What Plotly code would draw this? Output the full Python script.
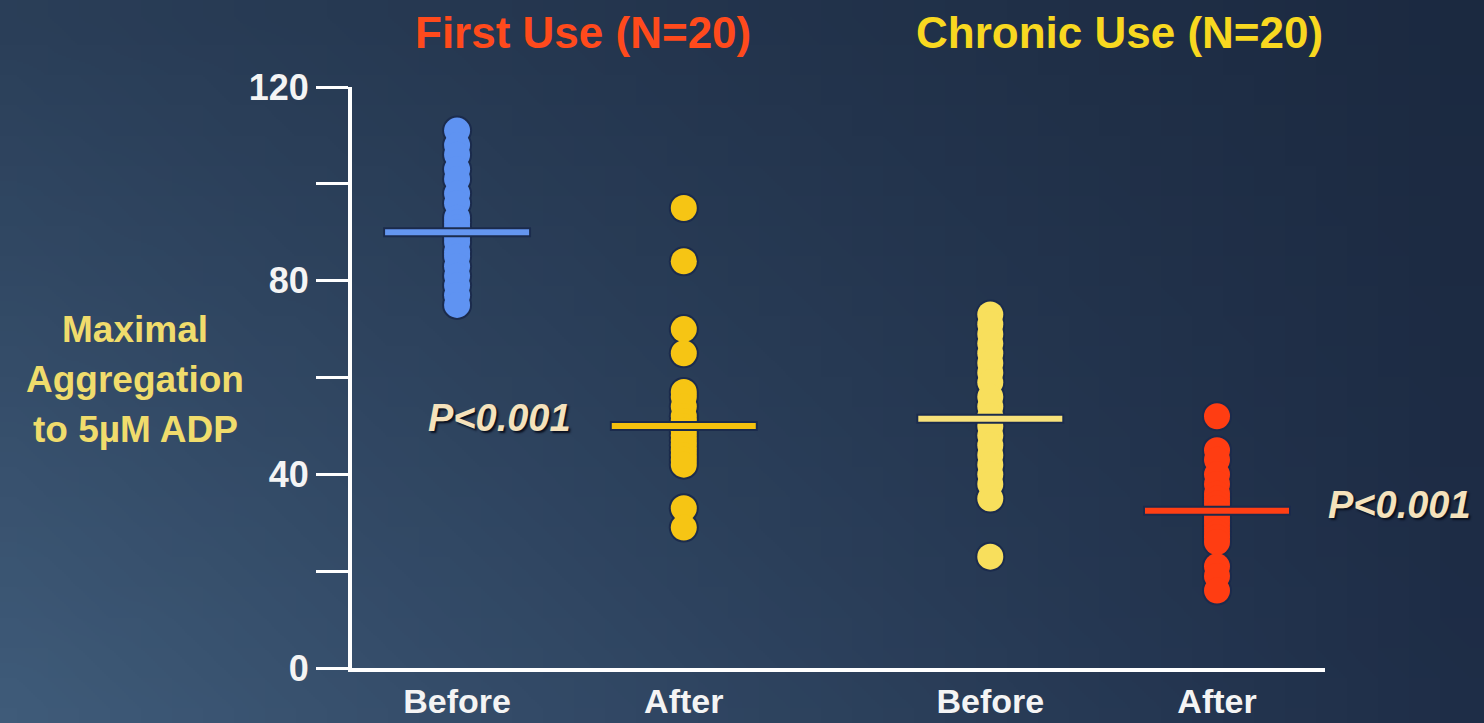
import base64, struct, zlib
import plotly.graph_objects as go

# ---------------- data ----------------
groups = ["First Use - Before", "First Use - After", "Chronic Use - Before", "Chronic Use - After"]
x_pos = [1.08, 3.41, 6.56, 8.89]
tick_labels = ["Before", "After", "Before", "After"]

first_before = [111, 108, 106, 103, 101, 98, 96, 93, 92, 91, 90, 89, 88, 86, 85, 83, 81, 79, 77, 75]
first_after = [95, 84, 70, 65, 57, 56, 54, 52, 51, 50, 49, 48, 47, 46, 45, 44, 43, 42, 33, 29]
chronic_before = [73, 71, 69, 67, 65, 63, 61, 59, 56, 54, 52, 50, 48, 46, 44, 42, 40, 38, 35, 23]
chronic_after = [52, 45, 43, 40, 38, 36, 35, 34, 33, 32, 32, 31, 30, 29, 28, 27, 26, 21, 19, 16]
group_means = [90, 50, 51.5, 32.5]

y_tickvals = [0, 20, 40, 60, 80, 100, 120]
y_ticktext = ["0", "", "40", "", "80", "", "120"]

series = [first_before, first_after, chronic_before, chronic_after]
dot_colors = ["#5f93f2", "#f6c514", "#f8df5c", "#ff3d12"]
line_colors = ["#6496f0", "#f4c10e", "#f8e27a", "#ff3f14"]

# ---------------- background gradient (small PNG, stretched) ----------------
def gradient_png(w, h, tl, tr, bl, br):
    raw = b""
    for j in range(h):
        fy = j / (h - 1)
        row = b"\x00"
        for i in range(w):
            fx = i / (w - 1)
            px = []
            for k in range(3):
                top = tl[k] * (1 - fx) + tr[k] * fx
                bot = bl[k] * (1 - fx) + br[k] * fx
                px.append(int(round(top * (1 - fy) + bot * fy)))
            row += bytes(px)
        raw += row
    def chunk(t, d):
        c = struct.pack(">I", len(d)) + t + d
        return c + struct.pack(">I", zlib.crc32(t + d) & 0xffffffff)
    png = b"\x89PNG\r\n\x1a\n"
    png += chunk(b"IHDR", struct.pack(">IIBBBBB", w, h, 8, 2, 0, 0, 0))
    png += chunk(b"IDAT", zlib.compress(raw))
    png += chunk(b"IEND", b"")
    return "data:image/png;base64," + base64.b64encode(png).decode()

bg = gradient_png(48, 24, (42, 62, 88), (27, 41, 64), (63, 91, 121), (30, 45, 71))

fig = go.Figure()
halo = "#1b2b4c"

for xs, vals, col, lc, m, name in zip(x_pos, series, dot_colors, line_colors, group_means, groups):
    # dark halo under the dots
    fig.add_trace(go.Scatter(
        x=[xs] * len(vals), y=vals, mode="markers",
        marker=dict(size=30, color=halo, line=dict(width=0)),
        cliponaxis=False, showlegend=False, hoverinfo="skip"))
    fig.add_trace(go.Scatter(
        x=[xs] * len(vals), y=vals, mode="markers", name=name,
        marker=dict(size=26, color=col, line=dict(width=0)),
        cliponaxis=False, showlegend=False, hoverinfo="y"))
    fig.add_trace(go.Scatter(
        x=[xs - 0.76, xs + 0.76], y=[m, m], mode="lines",
        line=dict(color=halo, width=10), showlegend=False, hoverinfo="skip"))
    fig.add_trace(go.Scatter(
        x=[xs - 0.74, xs + 0.74], y=[m, m], mode="lines",
        line=dict(color=lc, width=6), showlegend=False, hoverinfo="skip"))

font_family = "Liberation Sans, Arial, sans-serif"
ytitle_color = "#f0dc6c"
p_font = dict(size=38, color="#f5e2bc", family=font_family, shadow="2px 2px 2px #0a1020")

annotations = [
    dict(text="<b>First Use (N=20)</b>", x=0.237, y=1.093, xref="paper", yref="paper",
         xanchor="center", yanchor="middle",
         showarrow=False, font=dict(size=44, color="#ff4a1c", family=font_family)),
    dict(text="<b>Chronic Use (N=20)</b>", x=0.789, y=1.093, xref="paper", yref="paper",
         xanchor="center", yanchor="middle",
         showarrow=False, font=dict(size=44, color="#f8d820", family=font_family)),
    dict(text="<b>Maximal</b>", x=-0.223, y=0.582, xref="paper", yref="paper",
         xanchor="center", yanchor="middle",
         showarrow=False, font=dict(size=37, color=ytitle_color, family=font_family)),
    dict(text="<b>Aggregation</b>", x=-0.223, y=0.496, xref="paper", yref="paper",
         xanchor="center", yanchor="middle",
         showarrow=False, font=dict(size=37, color=ytitle_color, family=font_family)),
    dict(text="<b>to 5µM ADP</b>", x=-0.223, y=0.410, xref="paper", yref="paper",
         xanchor="center", yanchor="middle",
         showarrow=False, font=dict(size=37, color=ytitle_color, family=font_family)),
    dict(text="<b><i>P<0.001</i></b>", x=1.52, y=51.6, xref="x", yref="y",
         xanchor="center", yanchor="middle", showarrow=False, font=p_font),
    dict(text="<b><i>P<0.001</i></b>", x=1.077, y=0.2806, xref="paper", yref="paper",
         xanchor="center", yanchor="middle", showarrow=False, font=p_font),
]

fig.update_layout(
    width=1484, height=723,
    margin=dict(l=352, r=159, t=87, b=55),
    paper_bgcolor="#2c4260", plot_bgcolor="rgba(0,0,0,0)",
    images=[dict(source=bg, xref="paper", yref="paper", x=-352/973, y=1+87/581,
                 sizex=1484/973, sizey=723/581, sizing="stretch", layer="below",
                 xanchor="left", yanchor="top")],
    annotations=annotations,
    xaxis=dict(range=[0, 10], showgrid=False, zeroline=False, showline=True,
               linecolor="white", linewidth=4, ticks="", automargin=False,
               tickvals=x_pos, ticktext=["<b>%s</b>" % t for t in tick_labels],
               ticklabelstandoff=0,
               tickfont=dict(size=34, color="#f4f4f4", family=font_family)),
    yaxis=dict(range=[0, 120], showgrid=False, zeroline=False, showline=True,
               linecolor="white", linewidth=4, ticks="outside", ticklen=32,
               tickwidth=3, tickcolor="white", automargin=False,
               tickvals=y_tickvals, ticktext=["<b>%s</b>" % t if t else "" for t in y_ticktext],
               tickfont=dict(size=36, color="#f4f4f4", family=font_family)),
    font=dict(family=font_family),
)

fig.write_html("out.html", config={"displayModeBar": False},
               post_script="document.body.style.margin='0';")
